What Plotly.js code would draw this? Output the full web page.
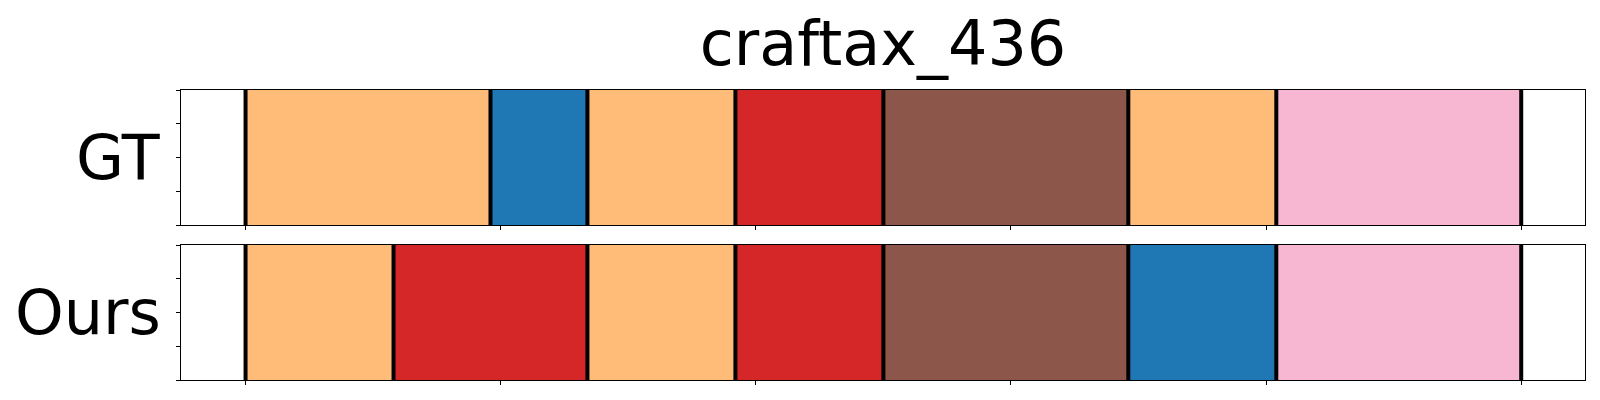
<!DOCTYPE html>
<html>
<head>
<meta charset="utf-8">
<script src="https://cdn.plot.ly/plotly-3.0.1.min.js"></script>
<style>html,body{margin:0;padding:0;background:#fff;}#chart{width:1600px;height:400px;}</style>
</head>
<body>
<div id="chart"></div>
<script>
// ---- data ----
const chartTitle = 'craftax_436';
const rowLabels = ['GT', 'Ours'];
const gtBounds = [0, 96, 134, 192, 250, 346, 404, 500];
const gtClasses = ['orange', 'blue', 'orange', 'red', 'brown', 'orange', 'pink'];
const oursBounds = [0, 58, 134, 192, 250, 346, 404, 500];
const oursClasses = ['orange', 'red', 'orange', 'red', 'brown', 'blue', 'pink'];
const xTicks = [0, 100, 200, 300, 400, 500];
const yTicks = [0, 0.25, 0.5, 0.75, 1];

// ---- style ----
const palette = {orange: '#ffbb78', blue: '#1f77b4', red: '#d62728', brown: '#8c564b', pink: '#f7b6d2'};
const FONT = 'DejaVu Sans, Liberation Sans, sans-serif';

function segTrace(bounds, classes, axY) {
  const starts = bounds.slice(0, -1);
  const widths = starts.map((s, i) => bounds[i + 1] - s);
  return {
    type: 'bar', orientation: 'h',
    x: widths, base: starts, y: starts.map(() => 0.5), width: 1,
    marker: {color: classes.map(c => palette[c]), line: {width: 0}},
    xaxis: axY === 'y' ? 'x' : 'x2', yaxis: axY,
    hoverinfo: 'skip', showlegend: false
  };
}
function lineTrace(bounds, axY) {
  const xs = [], ys = [];
  bounds.forEach(b => { xs.push(b, b, null); ys.push(0, 1, null); });
  return {
    type: 'scatter', mode: 'lines', x: xs, y: ys,
    line: {color: '#000', width: 4},
    xaxis: axY === 'y' ? 'x' : 'x2', yaxis: axY,
    hoverinfo: 'skip', showlegend: false
  };
}

const data = [
  segTrace(gtBounds, gtClasses, 'y'), lineTrace(gtBounds, 'y'),
  segTrace(oursBounds, oursClasses, 'y2'), lineTrace(oursBounds, 'y2')
];

const xAxisBase = {
  range: [-25.3, 525], tickvals: xTicks, showticklabels: false,
  ticks: 'outside', ticklen: 4, tickwidth: 1, tickcolor: '#000',
  showline: true, mirror: true, linecolor: '#000', linewidth: 1,
  showgrid: false, zeroline: false, fixedrange: true
};
const yAxisBase = {
  range: [0, 1], tickvals: yTicks, showticklabels: false,
  ticks: 'outside', ticklen: 4, tickwidth: 1, tickcolor: '#000',
  showline: true, mirror: true, linecolor: '#000', linewidth: 1,
  showgrid: false, zeroline: false, fixedrange: true
};

const layout = {
  width: 1600, height: 400,
  margin: {l: 181, r: 15, t: 90, b: 20},
  paper_bgcolor: '#fff', plot_bgcolor: '#fff',
  barmode: 'overlay', bargap: 0,
  font: {family: FONT, color: '#000'},
  title: {text: chartTitle, font: {family: FONT, size: 62, color: '#000'},
          x: 0.5, xref: 'paper', xanchor: 'center', y: 1 - 65 / 400, yref: 'container', yanchor: 'bottom'},
  xaxis: Object.assign({}, xAxisBase, {anchor: 'y'}),
  yaxis: Object.assign({}, yAxisBase, {domain: [0.5345, 1], anchor: 'x'}),
  xaxis2: Object.assign({}, xAxisBase, {anchor: 'y2'}),
  yaxis2: Object.assign({}, yAxisBase, {domain: [0, 0.4655], anchor: 'x2'}),
  annotations: [
    {text: rowLabels[0], xref: 'paper', x: 0, xanchor: 'right', xshift: -18,
     yref: 'y domain', y: 0.5, yanchor: 'middle', showarrow: false,
     font: {family: FONT, size: 62, color: '#000'}},
    {text: rowLabels[1], xref: 'paper', x: 0, xanchor: 'right', xshift: -18,
     yref: 'y2 domain', y: 0.5, yanchor: 'middle', showarrow: false,
     font: {family: FONT, size: 62, color: '#000'}}
  ]
};

Plotly.newPlot('chart', data, layout, {displayModeBar: false, staticPlot: true});
</script>
</body>
</html>
